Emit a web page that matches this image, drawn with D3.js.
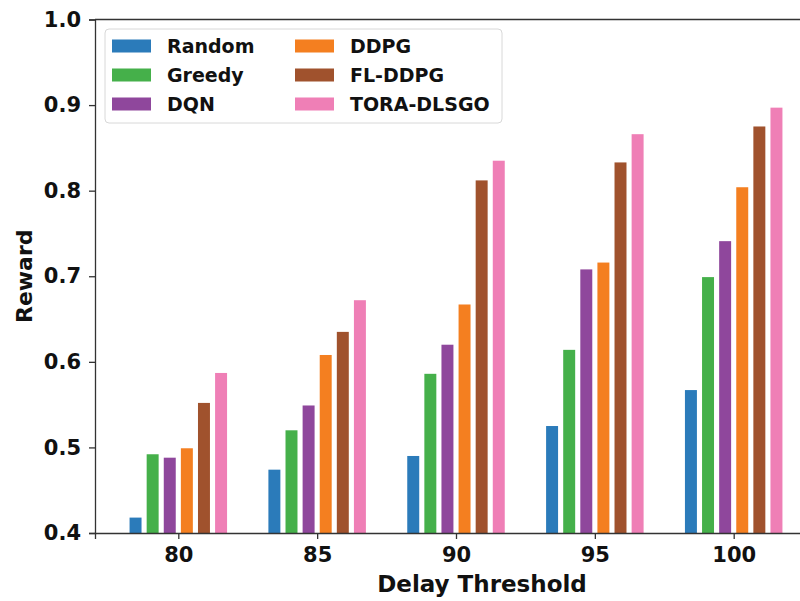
<!DOCTYPE html>
<html>
<head>
<meta charset="UTF-8">
<script src="https://d3js.org/d3.v7.min.js"></script>
<style>
  body { margin: 0; background: #fff; }
  text { font-family: "DejaVu Sans", sans-serif; font-weight: bold; }
</style>
</head>
<body>
<div id="chart"></div>
<script>
// data
const thresholds = ["80", "85", "90", "95", "100"];
const methods = ["Random", "Greedy", "DQN", "DDPG", "FL-DDPG", "TORA-DLSGO"];
const colors = ["#2b7bba", "#45b04a", "#8f479c", "#f47f20", "#a0522d", "#ef7fb6"];
const random  = [0.418, 0.474, 0.490, 0.525, 0.567];
const greedy  = [0.492, 0.520, 0.586, 0.614, 0.699];
const dqn     = [0.488, 0.549, 0.620, 0.708, 0.741];
const ddpg    = [0.499, 0.608, 0.667, 0.716, 0.804];
const flddpg  = [0.552, 0.635, 0.812, 0.833, 0.875];
const tora    = [0.587, 0.672, 0.835, 0.866, 0.897];
const yTicks  = [0.4, 0.5, 0.6, 0.7, 0.8, 0.9, 1.0];

const series = [random, greedy, dqn, ddpg, flddpg, tora];

const width = 800, height = 601;
const margin = { top: 19.5, right: -17, bottom: 68, left: 95 };

const svg = d3.select("#chart").append("svg")
    .attr("width", width)
    .attr("height", height);

svg.append("rect").attr("width", width).attr("height", height).attr("fill", "#fff");

const x = d3.scalePoint()
    .domain(thresholds)
    .range([margin.left, width - margin.right])
    .padding(0.6);

const xInner = d3.scaleBand()
    .domain(methods)
    .range([-48.75, 48.75])
    .paddingInner(0.3)
    .paddingOuter(0);

const y = d3.scaleLinear()
    .domain([0.4, 1.0])
    .range([height - margin.bottom, margin.top]);

// bars
methods.forEach((m, i) => {
    svg.append("g")
        .selectAll("rect")
        .data(series[i])
        .join("rect")
        .attr("x", (d, j) => x(thresholds[j]) + xInner(m))
        .attr("y", d => y(d))
        .attr("width", xInner.bandwidth())
        .attr("height", d => y(0.4) - y(d))
        .attr("fill", colors[i]);
});

// axes
const xAxis = svg.append("g")
    .attr("transform", `translate(0,${y(0.4)})`)
    .call(d3.axisBottom(x).tickSizeOuter(0).tickSize(6).tickPadding(8));
xAxis.selectAll("text").attr("font-size", "21px").attr("fill", "#111");

const yAxis = svg.append("g")
    .attr("transform", `translate(${margin.left},0)`)
    .call(d3.axisLeft(y).tickValues(yTicks).tickFormat(d3.format(".1f")).tickSizeOuter(0).tickSize(6).tickPadding(8));
yAxis.selectAll("text").attr("font-size", "21px").attr("fill", "#111");

svg.selectAll(".domain, .tick line").attr("stroke", "#333").attr("stroke-width", 1.3);

// top and right spines
svg.append("line")
    .attr("x1", margin.left).attr("x2", width - margin.right)
    .attr("y1", y(1.0)).attr("y2", y(1.0))
    .attr("stroke", "#333").attr("stroke-width", 1.3);
svg.append("line")
    .attr("x1", width - margin.right).attr("x2", width - margin.right)
    .attr("y1", y(1.0)).attr("y2", y(0.4))
    .attr("stroke", "#333").attr("stroke-width", 1.3);

// axis labels
svg.append("text")
    .attr("x", 482)
    .attr("y", 592)
    .attr("text-anchor", "middle")
    .attr("font-size", "23px")
    .attr("fill", "#111")
    .text("Delay Threshold");

svg.append("text")
    .attr("transform", `translate(32,${(y(0.4) + y(1.0)) / 2}) rotate(-90)`)
    .attr("text-anchor", "middle")
    .attr("font-size", "22px")
    .attr("fill", "#111")
    .text("Reward");

// legend
const legend = svg.append("g").attr("transform", "translate(105,29)");
legend.append("rect")
    .attr("width", 397).attr("height", 94)
    .attr("rx", 4)
    .attr("fill", "#fff")
    .attr("stroke", "#d8d8d8");

methods.forEach((m, i) => {
    const col = Math.floor(i / 3), row = i % 3;
    const g = legend.append("g")
        .attr("transform", `translate(${7 + col * 183},${16.5 + row * 29})`);
    g.append("rect")
        .attr("x", 0).attr("y", -6)
        .attr("width", 39).attr("height", 13)
        .attr("fill", colors[i]);
    g.append("text")
        .attr("x", 55).attr("y", 7)
        .attr("font-size", "19px")
        .attr("fill", "#111")
        .text(m);
});
</script>
</body>
</html>
